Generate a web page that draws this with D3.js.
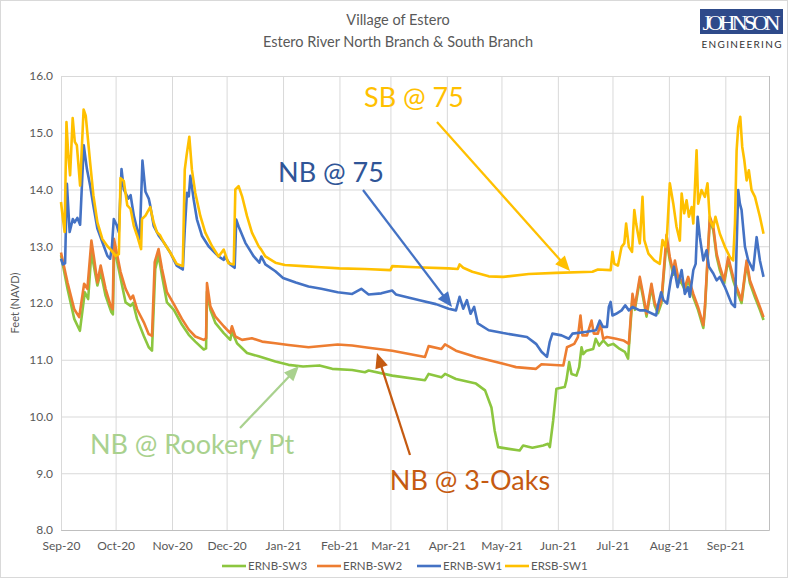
<!DOCTYPE html>
<html>
<head>
<meta charset="utf-8">
<script src="https://cdn.jsdelivr.net/npm/d3@7"></script>
<style>
  body { margin: 0; background: #fff; }
  svg text { font-family: Lato, "Open Sans", sans-serif; }
</style>
</head>
<body>
<div id="chart"></div>
<script>
// water levels, [date, feet NAVD]
var ernbSw3 = [["2020-09-01",12.84],["2020-09-04 14",12.25],["2020-09-08 07",11.72],["2020-09-11 09",11.51],["2020-09-14 02",12.19],["2020-09-15 22",12.07],["2020-09-17 17",12.89],["2020-09-21",12.31],["2020-09-22 19",12.54],["2020-09-25 12",12.13],["2020-09-28 15",11.84],["2020-09-29 12",11.8],["2020-09-30 06",13.01],["2020-10-01 22",12.72],["2020-10-06 12",12.01],["2020-10-09 05",11.95],["2020-10-10 14",12.0],["2020-10-12 19",11.72],["2020-10-16 12",11.42],["2020-10-19 05",11.22],["2020-10-21",11.16],["2020-10-22 19",12.6],["2020-10-24 14",12.84],["2020-10-26 12",12.48],["2020-10-29 05",12.01],["2020-11-02",11.88],["2020-11-06 10",11.62],["2020-11-10 05",11.44],["2020-11-13 19",11.32],["2020-11-18 10",11.18],["2020-11-19 17",11.2],["2020-11-20 05",12.2],["2020-11-22 02",11.88],["2020-11-24 19",11.65],["2020-11-29 10",11.47],["2020-12-03",11.35],["2020-12-03 22",11.5],["2020-12-06 17",11.29],["2020-12-12 05",11.12],["2020-12-18 14",11.06],["2020-12-27 19",10.97],["2021-01-04",10.91],["2021-01-12",10.88],["2021-01-21",10.9],["2021-01-28",10.84],["2021-02-08",10.82],["2021-02-15",10.78],["2021-02-17",10.81],["2021-03-02",10.72],["2021-03-20",10.64],["2021-03-22",10.75],["2021-03-29",10.69],["2021-03-31",10.75],["2021-04-06",10.66],["2021-04-17",10.58],["2021-04-22",10.46],["2021-04-25 12",10.16],["2021-04-27 07",9.75],["2021-04-29 05",9.46],["2021-05-05",9.43],["2021-05-11",9.4],["2021-05-12 22",9.49],["2021-05-18",9.45],["2021-05-23 22",9.49],["2021-05-26 14",9.52],["2021-05-27 14",9.46],["2021-05-29 10",9.93],["2021-05-31 05",10.49],["2021-06-04 19",10.52],["2021-06-05 17",10.64],["2021-06-07 05",10.96],["2021-06-08 12",10.75],["2021-06-11 05",10.72],["2021-06-12 17",10.87],["2021-06-14",11.22],["2021-06-14 22",11.1],["2021-06-16 17",11.16],["2021-06-20 10",11.19],["2021-06-21 19",11.37],["2021-06-23 17",11.25],["2021-06-25 22",11.34],["2021-06-28 14",11.25],["2021-07-01 10",11.28],["2021-07-05",11.19],["2021-07-07 19",11.14],["2021-07-09 14",11.02],["2021-07-10 22",11.62],["2021-07-12",12.1],["2021-07-13 07",11.88],["2021-07-16",12.4],["2021-07-17 19",12.1],["2021-07-19 17",11.76],["2021-07-22 10",12.28],["2021-07-24 05",11.95],["2021-07-26",11.82],["2021-07-27 22",12.0],["2021-07-30 17",13.1],["2021-08-01 12",12.75],["2021-08-03 10",12.5],["2021-08-04 07",12.7],["2021-08-06",12.4],["2021-08-08",12.35],["2021-08-09 19",12.23],["2021-08-11 14",12.4],["2021-08-14 10",12.1],["2021-08-17",11.88],["2021-08-19 22",11.56],["2021-08-20 19",11.88],["2021-08-22 14",12.94],["2021-08-23 12",13.46],["2021-08-25 10",13.28],["2021-08-27 05",12.82],["2021-08-29",12.58],["2021-08-31 10",12.35],["2021-09-02 14",12.76],["2021-09-05 07",12.4],["2021-09-07 05",12.22],["2021-09-09 22",12.0],["2021-09-12 17",12.7],["2021-09-14 12",12.35],["2021-09-17 07",12.1],["2021-09-20",11.88],["2021-09-22",11.7]];

var ernbSw2 = [["2020-09-01",12.89],["2020-09-04 14",12.36],["2020-09-08 07",11.89],["2020-09-11",11.75],["2020-09-13 17",12.34],["2020-09-15 12",12.25],["2020-09-17 17",13.1],["2020-09-19 05",12.78],["2020-09-21",12.36],["2020-09-22 19",12.66],["2020-09-25 12",12.25],["2020-09-28 07",11.95],["2020-09-29 10",11.89],["2020-09-30 02",13.13],["2020-10-01 22",12.84],["2020-10-03 17",12.55],["2020-10-06 12",12.25],["2020-10-09 05",12.07],["2020-10-10 14",12.13],["2020-10-12 19",11.89],["2020-10-16 12",11.66],["2020-10-19 05",11.45],["2020-10-21",11.42],["2020-10-22 12",12.72],["2020-10-24 14",12.95],["2020-10-26 12",12.6],["2020-10-29 05",12.19],["2020-11-02",11.98],["2020-11-06 10",11.72],["2020-11-10 05",11.53],["2020-11-13 19",11.41],["2020-11-18 10",11.35],["2020-11-19 17",11.38],["2020-11-20 05",12.35],["2020-11-22 02",11.94],["2020-11-24 19",11.76],["2020-11-29 10",11.59],["2020-12-03",11.47],["2020-12-03 22",11.59],["2020-12-05 19",11.41],["2020-12-09 12",11.35],["2020-12-14 22",11.38],["2020-12-20 12",11.32],["2020-12-27 19",11.29],["2021-01-04",11.26],["2021-01-15",11.22],["2021-01-31",11.27],["2021-02-08",11.25],["2021-02-17",11.21],["2021-03-02",11.16],["2021-03-20",11.05],["2021-03-22",11.24],["2021-03-29",11.19],["2021-03-31",11.27],["2021-04-06",11.16],["2021-04-17",11.05],["2021-05-02",10.93],["2021-05-09",10.87],["2021-05-20",10.84],["2021-05-23",10.92],["2021-06-04",10.9],["2021-06-06",11.22],["2021-06-10",11.28],["2021-06-12",11.4],["2021-06-13 10",11.78],["2021-06-14 12",11.43],["2021-06-17",11.43],["2021-06-19 12",11.69],["2021-06-20 18",11.46],["2021-06-23",11.46],["2021-06-24 10",11.64],["2021-06-25 22",11.37],["2021-06-28",11.4],["2021-07-03",11.37],["2021-07-07",11.34],["2021-07-10",11.28],["2021-07-10 22",11.69],["2021-07-12",12.16],["2021-07-13 07",11.93],["2021-07-16",12.46],["2021-07-17 19",12.16],["2021-07-19 17",11.81],["2021-07-22 10",12.34],["2021-07-24 05",12.0],["2021-07-26",11.87],["2021-07-27 22",12.05],["2021-07-30 17",13.2],["2021-08-01 12",12.81],["2021-08-03 10",12.55],["2021-08-04 07",12.75],["2021-08-06",12.46],["2021-08-08",12.4],["2021-08-09 19",12.28],["2021-08-11 14",12.46],["2021-08-14 10",12.16],["2021-08-17",11.93],["2021-08-19 22",11.61],["2021-08-20 19",11.93],["2021-08-22 14",12.99],["2021-08-23 12",13.52],["2021-08-25 10",13.34],["2021-08-27 05",12.87],["2021-08-29",12.64],["2021-08-31 10",12.4],["2021-09-02 14",12.81],["2021-09-05 07",12.46],["2021-09-07 05",12.28],["2021-09-09 22",12.05],["2021-09-12 17",12.75],["2021-09-14 12",12.4],["2021-09-17 07",12.16],["2021-09-20",11.93],["2021-09-22",11.75]];

var ernbSw1 = [["2020-09-01",12.78],["2020-09-02",12.68],["2020-09-03 06",12.7],["2020-09-04 06",14.1],["2020-09-05 18",13.25],["2020-09-07 12",13.48],["2020-09-08 12",13.42],["2020-09-10",13.5],["2020-09-11 12",13.38],["2020-09-13 12",14.78],["2020-09-15 06",14.36],["2020-09-17",14.07],["2020-09-18 18",13.72],["2020-09-21",13.31],["2020-09-23 18",13.07],["2020-09-26 12",12.83],["2020-09-28",12.78],["2020-09-29",13.0],["2020-09-30",13.48],["2020-10-01 18",13.36],["2020-10-02 18",13.25],["2020-10-04 06",14.36],["2020-10-05 12",14.0],["2020-10-08",13.84],["2020-10-09 06",13.9],["2020-10-11",13.54],["2020-10-12 18",13.31],["2020-10-14 06",13.13],["2020-10-15 18",14.51],["2020-10-17 10",13.96],["2020-10-19 05",13.84],["2020-10-20",13.72],["2020-10-21 22",13.36],["2020-10-24 15",13.19],["2020-10-27 10",13.07],["2020-10-31",12.89],["2020-11-03 14",12.66],["2020-11-06 22",12.59],["2020-11-08",13.29],["2020-11-09 05",13.94],["2020-11-10 05",13.88],["2020-11-11 02",14.24],["2020-11-12 22",13.82],["2020-11-14 17",13.47],["2020-11-17 12",13.18],["2020-11-21 02",13.0],["2020-11-26 14",12.82],["2020-11-29 10",12.76],["2020-11-29 22",12.82],["2020-12-03",12.68],["2020-12-05 10",12.62],["2020-12-06 07",13.47],["2020-12-07 14",13.35],["2020-12-11 07",13.06],["2020-12-15 22",12.82],["2020-12-19",12.71],["2020-12-20 02",12.82],["2020-12-22 07",12.68],["2020-12-27 19",12.56],["2021-01-01",12.44],["2021-01-08",12.36],["2021-01-15",12.29],["2021-01-22",12.25],["2021-01-31",12.19],["2021-02-08",12.16],["2021-02-13",12.25],["2021-02-17",12.15],["2021-02-24",12.17],["2021-03-02",12.22],["2021-03-04",12.15],["2021-03-17",12.05],["2021-03-26",11.98],["2021-04-02",11.9],["2021-04-06",11.87],["2021-04-08",12.11],["2021-04-10",11.9],["2021-04-12",12.05],["2021-04-14",11.81],["2021-04-16",11.93],["2021-04-18",11.64],["2021-04-24",11.52],["2021-05-02",11.47],["2021-05-15",11.4],["2021-05-20",11.28],["2021-05-23",11.14],["2021-05-26",11.05],["2021-05-27 12",11.31],["2021-05-29",11.46],["2021-06-03",11.43],["2021-06-07",11.37],["2021-06-09",11.46],["2021-06-16",11.49],["2021-06-22",11.52],["2021-06-24",11.69],["2021-06-25 18",11.58],["2021-06-28",11.58],["2021-06-29",11.93],["2021-06-30",12.02],["2021-07-01",11.78],["2021-07-03",11.81],["2021-07-06",11.87],["2021-07-08",11.96],["2021-07-10",11.87],["2021-07-12",11.93],["2021-07-16",11.87],["2021-07-19",11.87],["2021-07-25",11.78],["2021-07-26",11.96],["2021-07-27 18",12.19],["2021-07-29",12.05],["2021-07-31",11.99],["2021-08-02",12.4],["2021-08-03 18",12.64],["2021-08-05 18",12.28],["2021-08-08",12.58],["2021-08-09 18",12.16],["2021-08-11 12",12.28],["2021-08-12 12",12.11],["2021-08-14 10",12.58],["2021-08-15 17",12.69],["2021-08-16 19",13.52],["2021-08-18",13.16],["2021-08-19 22",12.75],["2021-08-21 17",12.93],["2021-08-23",12.64],["2021-08-25 10",12.52],["2021-08-27 05",12.4],["2021-08-29",12.46],["2021-08-31 19",12.28],["2021-09-04 10",11.99],["2021-09-06 07",11.93],["2021-09-07 05",12.99],["2021-09-08 02",13.99],["2021-09-09",13.75],["2021-09-09 22",13.64],["2021-09-11 19",12.99],["2021-09-13 14",12.75],["2021-09-16 07",12.58],["2021-09-18 05",13.16],["2021-09-20",12.75],["2021-09-22",12.46]];

var ersbSw1 = [["2020-09-01",13.78],["2020-09-02",13.5],["2020-09-03",13.25],["2020-09-04",15.19],["2020-09-05",14.6],["2020-09-06",14.25],["2020-09-07 10",15.26],["2020-09-08 14",14.84],["2020-09-09 17",14.78],["2020-09-11 12",14.07],["2020-09-13 10",15.41],["2020-09-14 14",15.3],["2020-09-17",14.48],["2020-09-18 19",13.9],["2020-09-21",13.42],["2020-09-23 17",13.13],["2020-09-26 12",13.0],["2020-09-28 07",12.94],["2020-10-01",12.83],["2020-10-02 19",12.86],["2020-10-03 17",14.2],["2020-10-05 12",14.15],["2020-10-07 10",13.72],["2020-10-09 05",13.66],["2020-10-11",13.36],["2020-10-12 19",13.19],["2020-10-15",12.95],["2020-10-15 12",13.48],["2020-10-17 10",13.54],["2020-10-20",13.69],["2020-10-21 22",13.42],["2020-10-23 17",13.25],["2020-10-25 12",13.19],["2020-10-27 10",13.07],["2020-10-31",12.89],["2020-11-03 14",12.69],["2020-11-06 22",12.65],["2020-11-08",14.35],["2020-11-09",14.6],["2020-11-10 12",14.93],["2020-11-11 22",14.35],["2020-11-13 19",13.94],["2020-11-16 14",13.53],["2020-11-19 07",13.24],["2020-11-23",13.0],["2020-11-26 14",12.82],["2020-11-29 10",12.94],["2020-12-02",12.7],["2020-12-04 22",12.68],["2020-12-05 19",14.0],["2020-12-07 14",14.06],["2020-12-09 12",13.88],["2020-12-12 05",13.53],["2020-12-14 22",13.24],["2020-12-18 14",13.0],["2020-12-20",12.94],["2020-12-22 07",12.82],["2020-12-27 19",12.71],["2021-01-02",12.67],["2021-01-12",12.65],["2021-01-22",12.63],["2021-02-01",12.61],["2021-02-15",12.6],["2021-03-01",12.58],["2021-03-02",12.65],["2021-03-15",12.63],["2021-04-02",12.61],["2021-04-07",12.6],["2021-04-08",12.68],["2021-04-10",12.62],["2021-04-15",12.55],["2021-04-24",12.47],["2021-05-02",12.46],["2021-05-16",12.51],["2021-05-31",12.53],["2021-06-20",12.55],["2021-06-23",12.59],["2021-06-30",12.58],["2021-07-01",12.9],["2021-07-02",12.69],["2021-07-04",12.66],["2021-07-06",12.99],["2021-07-07 12",13.05],["2021-07-08 12",13.4],["2021-07-10",12.99],["2021-07-11 18",12.9],["2021-07-13",13.64],["2021-07-14",13.4],["2021-07-15",13.22],["2021-07-16",13.05],["2021-07-17 12",13.87],["2021-07-18 12",13.11],["2021-07-20 18",12.87],["2021-07-24",12.75],["2021-07-27",12.69],["2021-07-28 12",13.11],["2021-07-30",12.99],["2021-07-31",13.22],["2021-08-01 12",14.11],["2021-08-03 10",13.75],["2021-08-05 05",13.34],["2021-08-07",13.1],["2021-08-08",13.93],["2021-08-09 10",13.58],["2021-08-10 17",13.81],["2021-08-12",13.52],["2021-08-13 12",13.69],["2021-08-14 10",13.4],["2021-08-16 05",14.69],["2021-08-17 02",13.75],["2021-08-18 22",13.99],["2021-08-20 19",13.87],["2021-08-22 05",14.11],["2021-08-23 12",13.46],["2021-08-25 10",13.34],["2021-08-26 14",13.52],["2021-08-29",13.22],["2021-08-31 19",12.99],["2021-09-03 12",12.81],["2021-09-05 07",12.75],["2021-09-06 07",13.4],["2021-09-07 05",14.69],["2021-09-08 02",15.1],["2021-09-09 05",15.28],["2021-09-10 07",14.75],["2021-09-11 10",14.52],["2021-09-12 17",14.16],["2021-09-13 22",14.34],["2021-09-15 10",13.99],["2021-09-17 07",13.87],["2021-09-20",13.52],["2021-09-22",13.22]];

var seriesNames = ["ERNB-SW3", "ERNB-SW2", "ERNB-SW1", "ERSB-SW1"];
var seriesColors = ["#8cc63f", "#ed7d31", "#4472c4", "#ffc000"];
var seriesData = [ernbSw3, ernbSw2, ernbSw1, ersbSw1];

var width = 789,
    height = 579;

var svg = d3.select("#chart").append("svg")
    .attr("width", width)
    .attr("height", height);

// outer frame
svg.append("rect")
    .attr("x", 0.5).attr("y", 0.5)
    .attr("width", width - 2).attr("height", height - 2)
    .attr("fill", "#fff")
    .attr("stroke", "#d9d9d9");

var parseDay = d3.timeParse("%Y-%m-%d");
var parseHour = d3.timeParse("%Y-%m-%d %H");
function parseDate(s) { return s.length > 10 ? parseHour(s) : parseDay(s); }

var x = d3.scaleTime()
    .domain([new Date(2020, 8, 1), new Date(2021, 8, 25)])
    .range([61, 769]);
var y = d3.scaleLinear()
    .domain([8, 16])
    .range([530, 76]);

// gridlines + y labels
var yAxis = svg.append("g")
    .attr("transform", "translate(61,0)")
    .call(d3.axisLeft(y).ticks(8).tickFormat(d3.format(".1f")).tickSize(-(769 - 61)).tickPadding(8));
yAxis.select(".domain").remove();
yAxis.selectAll("line").attr("stroke", "#d9d9d9");
yAxis.selectAll("text").attr("fill", "#595959").style("font-size", "12px");

var xAxis = svg.append("g")
    .attr("transform", "translate(0,530)")
    .call(d3.axisBottom(x).ticks(d3.timeMonth.every(1)).tickFormat(d3.timeFormat("%b-%y")).tickSize(-(530 - 76)).tickPadding(11));
xAxis.select(".domain").attr("stroke", "#bfbfbf");
xAxis.selectAll("line").attr("stroke", "#d9d9d9");
xAxis.selectAll("text").attr("fill", "#595959").style("font-size", "12px");

// lines
var line = d3.line()
    .x(function(d) { return x(parseDate(d[0])); })
    .y(function(d) { return y(d[1]); });

svg.selectAll(".series")
  .data(seriesData)
  .enter()
  .append("path")
    .attr("class", "series")
    .attr("d", line)
    .attr("fill", "none")
    .attr("stroke", function(d, i) { return seriesColors[i]; })
    .attr("stroke-width", 2.6)
    .attr("stroke-linejoin", "round");

// titles
svg.append("text")
    .attr("x", 398).attr("y", 25)
    .attr("text-anchor", "middle")
    .attr("fill", "#595959")
    .style("font-size", "14.5px")
    .text("Village of Estero");
svg.append("text")
    .attr("x", 398).attr("y", 47)
    .attr("text-anchor", "middle")
    .attr("fill", "#595959")
    .style("font-size", "14.5px")
    .text("Estero River North Branch & South Branch");

// logo
svg.append("rect")
    .attr("x", 700).attr("y", 9)
    .attr("width", 83).attr("height", 25)
    .attr("fill", "#2e4a8a");
svg.append("text")
    .attr("x", 741.5).attr("y", 30)
    .attr("text-anchor", "middle")
    .attr("fill", "#fff")
    .style("font-family", "'Liberation Serif', 'DejaVu Serif', serif")
    .style("font-size", "22px")
    .attr("textLength", 78)
    .text("JOHNSON");
svg.append("text")
    .attr("x", 741.5).attr("y", 48)
    .attr("text-anchor", "middle")
    .attr("fill", "#333")
    .style("font-size", "10px")
    .attr("textLength", 80)
    .text("ENGINEERING");

// axis title
svg.append("text")
    .attr("transform", "translate(19,303) rotate(-90)")
    .attr("text-anchor", "middle")
    .attr("fill", "#595959")
    .style("font-size", "11px")
    .text("Feet (NAVD)");

// legend
var legendX = [222, 317, 417, 505];
var legend = svg.selectAll(".leg")
  .data(seriesNames)
  .enter()
  .append("g")
    .attr("transform", function(d, i) { return "translate(" + legendX[i] + ",566)"; });
legend.append("line")
    .attr("x1", 0).attr("x2", 24)
    .attr("stroke", function(d, i) { return seriesColors[i]; })
    .attr("stroke-width", 2.6);
legend.append("text")
    .attr("x", 26).attr("dy", "0.35em")
    .attr("fill", "#595959")
    .style("font-size", "11.5px")
    .text(function(d) { return d; });

// callouts
var notes = [
  { text: "SB @ 75", tx: 414, ty: 107, color: "#ffc000", arrow: "#ffc000", from: [437, 122], to: [570, 271] },
  { text: "NB @ 75", tx: 331, ty: 182, color: "#2f5597", arrow: "#4472c4", from: [363, 190], to: [452, 307] },
  { text: "NB @ Rookery Pt", tx: 192, ty: 454, color: "#a9d18e", arrow: "#a9d18e", from: [240, 428], to: [299, 366] },
  { text: "NB @ 3-Oaks", tx: 470, ty: 490, color: "#c55a11", arrow: "#c55a11", from: [410, 455], to: [377, 353] }
];

function arrowHead(from, to) {
  var dx = to[0] - from[0], dy = to[1] - from[1];
  var len = Math.sqrt(dx * dx + dy * dy);
  var ux = dx / len, uy = dy / len;
  var bx = to[0] - ux * 15, by = to[1] - uy * 15;
  return "M" + to[0] + "," + to[1] +
    "L" + (bx - uy * 6.5) + "," + (by + ux * 6.5) +
    "L" + (bx + uy * 6.5) + "," + (by - ux * 6.5) + "Z";
}

notes.forEach(function(n) {
  var dx = n.to[0] - n.from[0], dy = n.to[1] - n.from[1];
  var len = Math.sqrt(dx * dx + dy * dy);
  svg.append("line")
      .attr("x1", n.from[0]).attr("y1", n.from[1])
      .attr("x2", n.to[0] - dx / len * 12).attr("y2", n.to[1] - dy / len * 12)
      .attr("stroke", n.arrow)
      .attr("stroke-width", 2.25);
  svg.append("path")
      .attr("d", arrowHead(n.from, n.to))
      .attr("fill", n.arrow);
  svg.append("text")
      .attr("x", n.tx).attr("y", n.ty)
      .attr("text-anchor", "middle")
      .attr("fill", n.color)
      .style("font-size", "27px")
      .text(n.text);
});
</script>
</body>
</html>
